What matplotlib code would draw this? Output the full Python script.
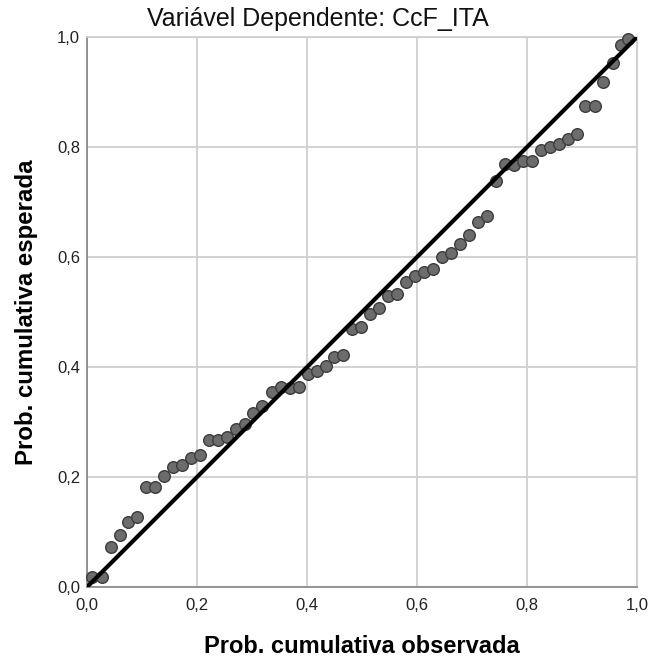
import numpy as np
import matplotlib
matplotlib.use('Agg')
import matplotlib.pyplot as plt

plt.rcParams['font.family'] = ['Liberation Sans', 'DejaVu Sans']

# observed vs expected cumulative probabilities of the residuals
obs = [0.0096, 0.0278, 0.0431, 0.0600, 0.0751, 0.0915, 0.1078, 0.1236, 0.1400, 0.1564,
       0.1733, 0.1896, 0.2055, 0.2218, 0.2382, 0.2551, 0.2709, 0.2873, 0.3024, 0.3187,
       0.3358, 0.3522, 0.3691, 0.3849, 0.4018, 0.4173, 0.4336, 0.4496, 0.4660, 0.4824,
       0.4982, 0.5151, 0.5309, 0.5467, 0.5642, 0.5800, 0.5969, 0.6127, 0.6285, 0.6449,
       0.6613, 0.6782, 0.6945, 0.7109, 0.7267, 0.7436, 0.7600, 0.7764, 0.7922, 0.8085,
       0.8249, 0.8418, 0.8582, 0.8751, 0.8904, 0.9060, 0.9231, 0.9387, 0.9558, 0.9704,
       0.9842]
esp = [0.0176, 0.0176, 0.0722, 0.0945, 0.1187, 0.1278, 0.1813, 0.1813, 0.2018, 0.2187,
       0.2224, 0.2345, 0.2400, 0.2682, 0.2682, 0.2733, 0.2878, 0.2964, 0.3169, 0.3296,
       0.3540, 0.3631, 0.3613, 0.3642, 0.3869, 0.3931, 0.4022, 0.4187, 0.4213, 0.4691,
       0.4733, 0.4958, 0.5067, 0.5296, 0.5322, 0.5545, 0.5655, 0.5736, 0.5775, 0.6005,
       0.6078, 0.6236, 0.6400, 0.6642, 0.6745, 0.7376, 0.7691, 0.7673, 0.7740, 0.7745,
       0.7940, 0.7991, 0.8055, 0.8151, 0.8231, 0.8751, 0.8751, 0.9176, 0.9522, 0.9855,
       0.9958]
ticks = [0.0, 0.2, 0.4, 0.6, 0.8, 1.0]
tick_labels = ['0,0', '0,2', '0,4', '0,6', '0,8', '1,0']

fig = plt.figure(figsize=(6.48, 6.63), dpi=100)
ax = fig.add_axes([0.1343, 0.1146, 0.8488, 0.8296])

ax.scatter(obs, esp, s=70, facecolor='#6c6c6c', edgecolor='#3c3c3c', linewidth=1.0,
           zorder=3, clip_on=False)
ax.plot([0, 1], [0, 1], color='black', linewidth=3.0, zorder=4, solid_capstyle='butt')

ax.set_xlim(0, 1)
ax.set_ylim(0, 1)
ax.set_xticks(ticks)
ax.set_yticks(ticks)
ax.set_xticklabels(tick_labels)
ax.set_yticklabels(tick_labels)
ax.tick_params(length=0, labelsize=12, labelcolor='#222222')
ax.tick_params(axis='x', pad=8)
ax.tick_params(axis='y', pad=5)
ax.grid(True, color='#cfcfcf', linewidth=1.3)
ax.set_axisbelow(True)

for side in ['top', 'right']:
    ax.spines[side].set_color('#cfcfcf')
    ax.spines[side].set_linewidth(1.3)
for side in ['left', 'bottom']:
    ax.spines[side].set_color('#8c8c8c')
    ax.spines[side].set_linewidth(1.3)

ax.set_xlabel('Prob. cumulativa observada', fontsize=17, fontweight='bold',
              labelpad=16)
ax.set_ylabel('Prob. cumulativa esperada', fontsize=17.3, fontweight='bold',
              labelpad=14)
fig.text(0.49, 0.972, 'Variável Dependente: CcF_ITA', fontsize=18, ha='center',
         va='center', color='#111111')

fig.savefig('out.png', dpi=100)
